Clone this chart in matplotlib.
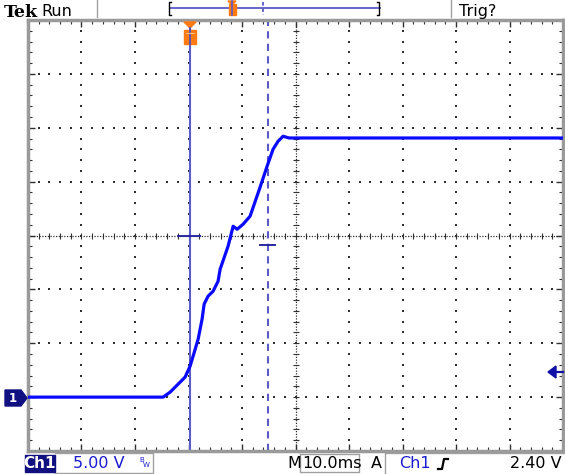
import matplotlib
matplotlib.use("Agg")
import matplotlib.pyplot as plt
from matplotlib.patches import Polygon, Rectangle
import numpy as np

# ---- data (ms relative to trigger, volts) ----
time_ms = [-30.3, -5.05, -3.74, -1.87, -0.93, 0.0, 0.56, 1.50, 2.24, 2.62, 3.36, 4.30,
           5.23, 5.61, 7.10, 8.04, 8.79, 9.91, 11.21, 13.08, 14.39, 15.51, 16.45, 17.38,
           18.5, 69.7]
volts = [0.0, 0.0, 0.46, 1.39, 1.86, 2.88, 3.80, 5.38, 7.24, 8.63, 9.37, 9.83,
         10.76, 11.87, 14.01, 15.86, 15.58, 16.05, 16.79, 19.48, 21.43, 23.01, 23.75, 24.21,
         24.05, 24.05]
trigger_time = 0.0
cursor_time = 14.6
trigger_level = 2.40
volts_per_div = 5.0
ms_per_div = 10.0
x_limits = (-30.3, 69.7)
y_limits = (-5.0, 35.0)

W, H = 565, 474
fig = plt.figure(figsize=(W / 100, H / 100), dpi=100)
fig.patch.set_facecolor("white")

# main graticule axes
L, R, T, B = 28, 563, 20, 451
ax = fig.add_axes([L / W, 1 - B / H, (R - L) / W, (B - T) / H])
ax.set_xlim(*x_limits)
ax.set_ylim(*y_limits)
ax.set_facecolor("white")
for s in ax.spines.values():
    s.set_color("#9a9a9a")
    s.set_linewidth(2.5)
ax.set_xticks(np.arange(x_limits[0], x_limits[1] + 0.01, ms_per_div))
ax.set_yticks(np.arange(y_limits[0], y_limits[1] + 0.01, volts_per_div))
ax.set_xticks(np.arange(x_limits[0], x_limits[1] + 0.01, ms_per_div / 5), minor=True)
ax.set_yticks(np.arange(y_limits[0], y_limits[1] + 0.01, volts_per_div / 5), minor=True)
ax.tick_params(which="both", direction="in", top=True, right=True,
               labelbottom=False, labelleft=False, color="#303030")
ax.tick_params(which="major", length=5, width=1)
ax.tick_params(which="minor", length=3, width=0.8)

xc = (x_limits[0] + x_limits[1]) / 2
yc = (y_limits[0] + y_limits[1]) / 2
dot = "#303030"
# dotted grid lines
for i in range(1, 10):
    xv = x_limits[0] + i * ms_per_div
    if abs(xv - xc) < 1e-6:
        continue
    ys = np.arange(y_limits[0], y_limits[1] + 0.01, volts_per_div / 5)[1:-1]
    ax.scatter([xv] * len(ys), ys, s=1.2, c=dot, marker="s", linewidths=0, zorder=1)
for j in range(1, 8):
    yv = y_limits[0] + j * volts_per_div
    if abs(yv - yc) < 1e-6:
        continue
    xs = np.arange(x_limits[0], x_limits[1] + 0.01, ms_per_div / 5)[1:-1]
    ax.scatter(xs, [yv] * len(xs), s=1.2, c=dot, marker="s", linewidths=0, zorder=1)
# center lines
ax.axhline(yc, color=dot, lw=0.9, ls=(0, (1, 1.2)), zorder=1)
ax.axvline(xc, color=dot, lw=0.9, ls=(0, (1, 1.2)), zorder=1)
xs = np.arange(x_limits[0], x_limits[1] + 0.01, ms_per_div / 5)[1:-1]
ys = np.arange(y_limits[0], y_limits[1] + 0.01, volts_per_div / 5)[1:-1]
ax.scatter(xs, [yc] * len(xs), s=16, c=dot, marker="|", linewidths=0.8, zorder=1)
ax.scatter([xc] * len(ys), ys, s=16, c=dot, marker="_", linewidths=0.8, zorder=1)

# cursor lines
cur_col = "#5a5ac8"
ax.axvline(trigger_time, color=cur_col, lw=1.5, zorder=2)
ax.axvline(cursor_time, color=cur_col, lw=1.5, ls=(0, (3.5, 2.5)), zorder=2)
ax.plot([-2.2, 1.9], [yc, yc], color="#2a2aa0", lw=1.4, zorder=2)
ax.plot([13.1, 15.9], [14.1, 14.1], color="#2a2aa0", lw=1.4, zorder=2)

# trace
ax.plot(time_ms, volts, color="#0a0aff", lw=2.3, solid_joinstyle="round", zorder=3)

# overlay in pixel coords
ov = fig.add_axes([0, 0, 1, 1], facecolor="none")
ov.set_xlim(0, W)
ov.set_ylim(H, 0)
ov.axis("off")

# top bar
ov.text(4, 17, "Tek", fontsize=12.5, fontweight="bold", family="DejaVu Serif", color="black")
ov.text(41, 16, "Run", fontsize=11.5, color="black")
ov.plot([97, 97], [0, 17], color="#a0a0a0", lw=1)
ov.plot([451, 451], [0, 17], color="#a0a0a0", lw=1)
ov.text(459, 16, "Trig?", fontsize=11.5, color="black")
ov.plot([170, 380], [8, 8], color=cur_col, lw=1.3)
ov.plot([171, 169, 169, 171], [2, 2, 15, 15], color="black", lw=1)
ov.plot([377, 379, 379, 377], [2, 2, 15, 15], color="black", lw=1)
ov.plot([263, 263], [2, 15], color=cur_col, lw=1.3, ls=(0, (2, 1.5)))
ov.add_patch(Rectangle((228.5, 4), 7, 11, color="#ff7a10", zorder=3))
ov.add_patch(Polygon([[228, 1], [236, 1], [232, 5]], color="#ff7a10", zorder=3))
ov.plot([232, 232], [1, 15], color=cur_col, lw=1.2, zorder=4)

# orange trigger marker on graticule
ov.add_patch(Polygon([[184, 22], [196, 22], [190, 28]], color="#ff7a10", zorder=5))
ov.add_patch(Rectangle((184, 30), 12, 14, color="#ff7a10", zorder=5))
ov.plot([190, 190], [28, 44], color="#5050c0", lw=1.3, zorder=6)
ov.plot([186, 194], [33, 33], color="#ffc080", lw=0.8, zorder=6)

# channel ground marker
ov.add_patch(Polygon([[5, 390], [21, 390], [27, 398], [21, 406], [5, 406]],
                     color="#101080", zorder=5))
ov.text(13, 398.5, "1", fontsize=8.5, fontweight="bold", color="white",
        ha="center", va="center", zorder=6)

# trigger level arrow on right
ty = 372
ov.add_patch(Polygon([[548, ty], [556, ty - 6], [556, ty + 6]], color="#1010a8", zorder=5))
ov.plot([555, 563], [ty, ty], color="#1010a8", lw=1.6, zorder=5)

# bottom bar
ov.add_patch(Rectangle((25, 455), 30, 17, color="#101080", zorder=5))
ov.text(40, 464, "Ch1", fontsize=11, color="white", ha="center", va="center",
        fontweight="bold", zorder=6)
ov.plot([55, 153, 153, 55], [453, 453, 473, 473], color="#a0a0a0", lw=1)
ov.text(73, 464, "5.00 V", fontsize=11.5, color="#1a1ad0", va="center")
ov.text(139, 460, "B", fontsize=5, color="#1a1ad0", va="center")
ov.text(143, 465, "W", fontsize=5, color="#1a1ad0", va="center")
ov.text(287, 464, "M", fontsize=11.5, color="black", va="center")
ov.plot([300, 359, 359, 300, 300], [454, 454, 472, 472, 454], color="#a0a0a0", lw=1)
ov.text(302, 464, "10.0ms", fontsize=11.5, color="black", va="center")
ov.text(371, 464, "A", fontsize=11.5, color="black", va="center")
ov.plot([385, 385, 565], [474, 453, 453], color="#a0a0a0", lw=1)
ov.text(399, 464, "Ch1", fontsize=11.5, color="#1a1ad0", va="center")
ov.plot([438, 442, 444, 448], [469, 469, 459, 459], color="black", lw=1.6)
ov.text(562, 464, "%.2f V" % trigger_level, fontsize=11.5, color="black",
        va="center", ha="right")

fig.savefig("out.png", dpi=100)
